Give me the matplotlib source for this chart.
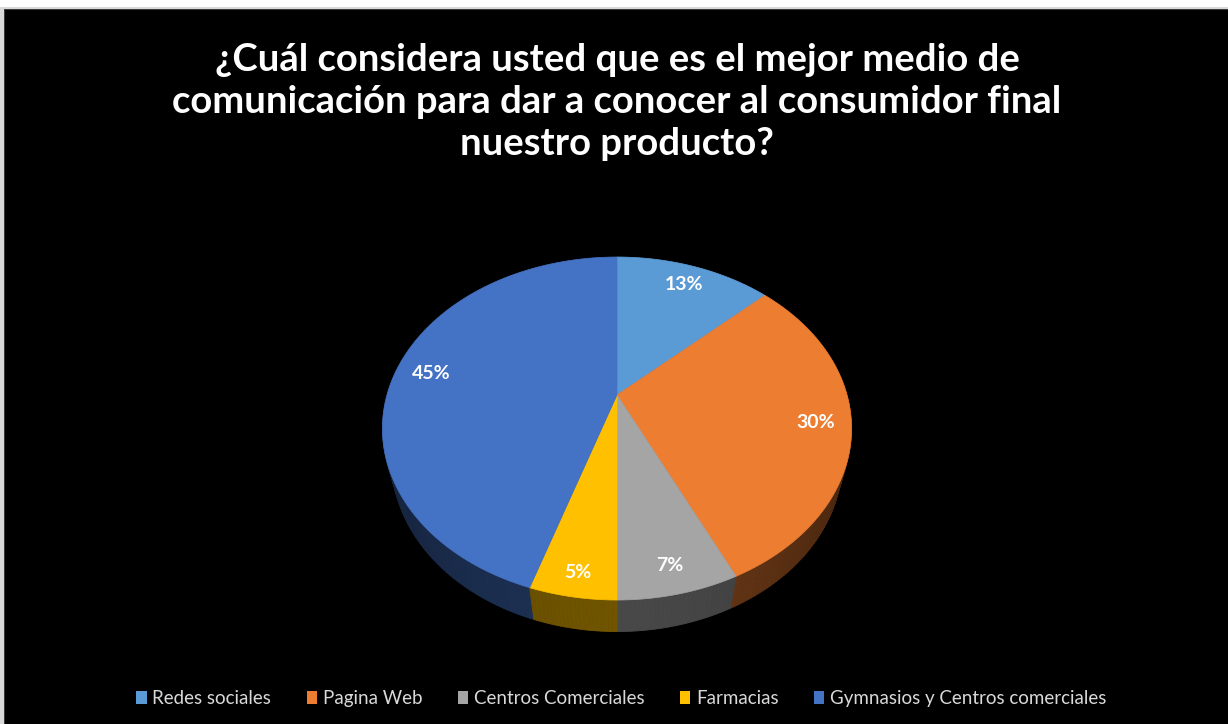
import numpy as np
import matplotlib.pyplot as plt
from matplotlib.patches import Polygon, Patch
from matplotlib.colors import to_rgb

title = ("¿Cuál considera usted que es el mejor medio de\n"
         "comunicación para dar a conocer al consumidor final\n"
         "nuestro producto?")
categories = ["Redes sociales", "Pagina Web", "Centros Comerciales",
              "Farmacias", "Gymnasios y Centros comerciales"]
shares = [13, 30, 7, 5, 45]
colors = ["#5B9BD5", "#ED7D31", "#A5A5A5", "#FFC000", "#4472C4"]

W, H = 1228, 724

# simple perspective camera for the tilted pie
cx, cy = 617, 395
focal_x, focal_y = 836.0, 852.0
dist = 3.634
tilt = np.radians(44.7)
thick = 0.21
label_r = [0.84, 0.85, 0.88, 0.90, 0.84]


def project(u, v, h=0.0):
    s, c = np.sin(tilt), np.cos(tilt)
    yc = h * c + v * s
    zc = dist + v * c - h * s
    return cx + focal_x * u / zc, cy - focal_y * yc / zc


def rim(a0, a1, n=80):
    a = np.linspace(a0, a1, n)
    # angle measured clockwise from the far side of the pie
    return np.sin(a), np.cos(a)


fig = plt.figure(figsize=(W / 100, H / 100), dpi=100, facecolor="white")
ax = fig.add_axes([0, 0, 1, 1])
ax.set_xlim(0, W)
ax.set_ylim(H, 0)
ax.axis("off")

# chart area
ax.add_patch(plt.Rectangle((3.5, 9), W, H, facecolor="black",
                           edgecolor="#3a3a3a", lw=1.5, zorder=0))
ax.add_patch(plt.Rectangle((0, 6.5), 3.5, H, facecolor="#d9d9d9",
                           edgecolor="none", zorder=0))
ax.add_patch(plt.Rectangle((0, 6.5), W, 2.5, facecolor="#d9d9d9",
                           edgecolor="none", zorder=0))

fracs = np.array(shares, dtype=float) / sum(shares)
edges = np.concatenate([[0], np.cumsum(fracs)]) * 2 * np.pi

# side wall, drawn as thin strips from back to front
strips = []
for i, col in enumerate(colors):
    a = np.linspace(edges[i], edges[i + 1], int(fracs[i] * 400) + 2)
    for a0, a1 in zip(a[:-1], a[1:]):
        strips.append(((np.cos(a0) + np.cos(a1)) / 2, a0, a1, col))
strips.sort(key=lambda t: -t[0])
for depth, a0, a1, col in strips:
    u, v = rim(a0, a1, 4)
    top = np.column_stack(project(u, v))
    bot = np.column_stack(project(u, v, -thick))
    am = (a0 + a1) / 2
    shade = 0.30 + 0.14 * max(0.0, -np.cos(am)) - 0.05 * abs(np.sin(am))
    rgb = np.array(to_rgb(col)) * shade
    ax.add_patch(Polygon(np.vstack([top, bot[::-1]]), closed=True,
                         facecolor=rgb, edgecolor=rgb, lw=0.6, zorder=2))

# top surface
for i, col in enumerate(colors):
    u, v = rim(edges[i], edges[i + 1], 120)
    pts = np.column_stack(project(u, v))
    pts = np.vstack([[project(0, 0)], pts])
    ax.add_patch(Polygon(pts, closed=True, facecolor=col, edgecolor=col,
                         lw=0.5, zorder=3))
    am = (edges[i] + edges[i + 1]) / 2
    lx, ly = project(label_r[i] * np.sin(am), label_r[i] * np.cos(am))
    ax.text(lx, ly, f"{shares[i]}%", color="white", fontsize=14,
            fontweight="bold", family="Lato", ha="center", va="center",
            zorder=4)

ax.text(617, 102, title, color="white", fontsize=27.5, fontweight="bold",
        family="Lato", ha="center", va="center", linespacing=1.27)

handles = [Patch(facecolor=c, edgecolor="none") for c in colors]
leg = ax.legend(handles, categories, loc="center", ncol=5,
                bbox_to_anchor=(0.506, 0.035), frameon=False,
                labelcolor="#d9d9d9", handlelength=0.55, handleheight=0.7,
                handletextpad=0.3, columnspacing=1.9,
                prop={"family": "Lato", "size": 13.5})

fig.savefig("out.png", dpi=100, facecolor="white")
